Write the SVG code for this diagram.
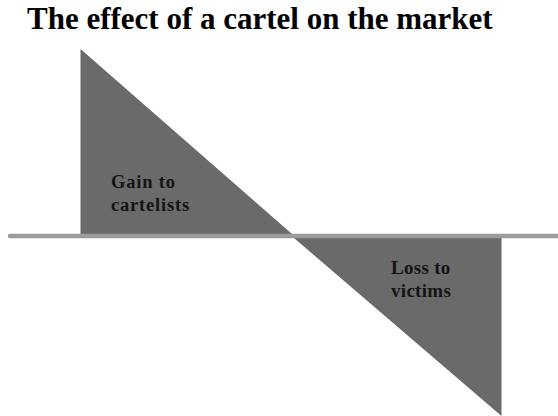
<svg xmlns="http://www.w3.org/2000/svg" width="558" height="416" viewBox="0 0 558 416">
<style>
.area{fill:#6a6a6a}
.lbl{font-family:"Liberation Serif","Times New Roman",serif;font-weight:bold;fill:#141414}
.title{font-family:"Liberation Serif","Times New Roman",serif;font-weight:bold;font-size:31px;fill:#000}
.axis{stroke:#9c9c9c;stroke-width:4.5;stroke-linecap:round;fill:none}
</style>
<rect width="558" height="416" fill="#fff"/>
<text class="title" x="27" y="28.5">The effect of a cartel on the market</text>
<g id="gain">
<polygon class="area" points="80.5,49 80.5,234 292,234"/>
<text class="lbl" font-size="18.5" letter-spacing="0.8" x="111" y="188">Gain to</text>
<text class="lbl" font-size="18.5" letter-spacing="0.8" x="111" y="211">cartelists</text>
</g>
<g id="loss">
<polygon class="area" points="294,238 501.5,238 501.5,416"/>
<text class="lbl" font-size="19" letter-spacing="0.3" x="391" y="274">Loss to</text>
<text class="lbl" font-size="19" letter-spacing="0.3" x="391" y="297">victims</text>
</g>
<g id="connectors">
<line class="axis" x1="10" y1="236" x2="560" y2="236"/>
</g>
</svg>
